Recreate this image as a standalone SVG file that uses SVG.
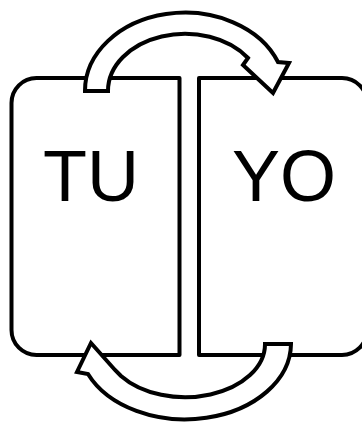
<svg xmlns="http://www.w3.org/2000/svg" width="362" height="424" viewBox="0 0 362 424">
  <style>
    .box { fill: #ffffff; stroke: #000000; stroke-width: 4; stroke-linejoin: round; }
    .lbl { font-family: "Liberation Sans", Arial, sans-serif; font-size: 72px; fill: #000000; text-anchor: middle; }
    .arr { fill: #ffffff; stroke: #000000; stroke-width: 4; stroke-linejoin: miter; }
  </style>
  <rect width="362" height="424" fill="#ffffff"/>
  <g id="node-tu">
    <path class="box" d="M179.5,78 L36.5,78 A25,25 0 0 0 11.5,103 L11.5,330 A25,25 0 0 0 36.5,355 L179.5,355 Z"/>
    <text class="lbl" x="91" y="201">TU</text>
  </g>
  <g id="node-yo">
    <path class="box" d="M199,78 L342,78 A25,25 0 0 1 367,103 L367,330 A25,25 0 0 1 342,355 L199,355 Z"/>
    <text class="lbl" x="284" y="201">YO</text>
  </g>
  <g id="connectors">
    <path class="arr" d="M85,91 A100,78 0 0 1 278,62 L289,63 L273,93 L243,65 L248,58 A77,57 0 0 0 108,91 Z"/>
    <path class="arr" d="M291,344 A106,76 0 0 1 88,374 L77,372 L91,343 L115,370 L121,376 A80,53 0 0 0 265,344 Z"/>
  </g>
</svg>
